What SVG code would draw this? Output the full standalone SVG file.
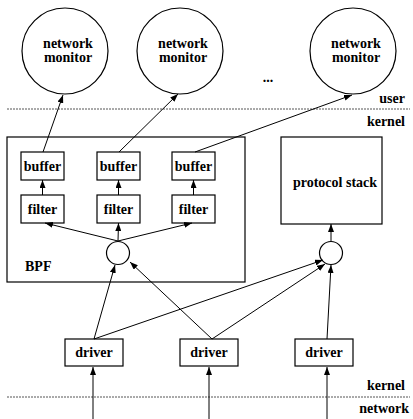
<svg xmlns="http://www.w3.org/2000/svg" width="413" height="419" viewBox="0 0 413 419">
  <style>
    .box { fill: #fff; stroke: #000; stroke-width: 1.2; }
    .ring { fill: #fff; stroke: #000; stroke-width: 1.2; }
    .lbl { font-family: 'Liberation Serif', 'DejaVu Serif', 'Times New Roman', serif; font-weight: 700; font-size: 14px; fill: #000; }
    .mid { text-anchor: middle; }
    .end { text-anchor: end; }
    .sep { stroke: #555; stroke-width: 1; stroke-dasharray: 2 1; fill: none; }
    .edge { stroke: #000; stroke-width: 1; fill: none; marker-end: url(#head); }
  </style>
  <defs>
    <marker id="head" viewBox="0 0 8 6" refX="8" refY="3" markerWidth="8" markerHeight="6" markerUnits="userSpaceOnUse" orient="auto">
      <path d="M0,0 L8,3 L0,6 z" fill="#000"/>
    </marker>
  </defs>

  <rect width="413" height="419" fill="#fff"/>

  <!-- layer boundaries -->
  <g id="layers">
    <line class="sep" x1="7" y1="109" x2="410" y2="109"/>
    <line class="sep" x1="7" y1="397" x2="410" y2="397"/>
    <text class="lbl end" x="405" y="103" font-family="Liberation Serif, serif">user</text>
    <text class="lbl end" x="405" y="126" font-family="Liberation Serif, serif">kernel</text>
    <text class="lbl end" x="405" y="390" font-family="Liberation Serif, serif">kernel</text>
    <text class="lbl end" x="409" y="413" font-family="Liberation Serif, serif">network</text>
  </g>

  <!-- user-level monitors -->
  <g id="monitor1">
    <circle class="ring" cx="65" cy="51" r="43"/>
    <text class="lbl mid" x="68" y="48" font-family="Liberation Serif, serif">network</text>
    <text class="lbl mid" x="68" y="62" font-family="Liberation Serif, serif">monitor</text>
  </g>
  <g id="monitor2">
    <circle class="ring" cx="180" cy="51" r="43"/>
    <text class="lbl mid" x="183" y="48" font-family="Liberation Serif, serif">network</text>
    <text class="lbl mid" x="183" y="62" font-family="Liberation Serif, serif">monitor</text>
  </g>
  <g id="monitor3">
    <circle class="ring" cx="353" cy="51" r="43"/>
    <text class="lbl mid" x="356" y="48" font-family="Liberation Serif, serif">network</text>
    <text class="lbl mid" x="356" y="62" font-family="Liberation Serif, serif">monitor</text>
  </g>
  <g id="ellipsis">
    <text class="lbl mid" x="268" y="82" font-family="Liberation Serif, serif">...</text>
  </g>

  <!-- packet filter -->
  <g id="bpf">
    <rect class="box" x="7" y="137" width="238" height="145"/>
    <text class="lbl" x="25" y="271" font-family="Liberation Serif, serif">BPF</text>
  </g>
  <g id="buffer1">
    <rect class="box" x="21" y="152" width="43" height="28"/>
    <text class="lbl mid" x="42.5" y="171" font-family="Liberation Serif, serif">buffer</text>
  </g>
  <g id="buffer2">
    <rect class="box" x="97" y="152" width="43" height="28"/>
    <text class="lbl mid" x="118.5" y="171" font-family="Liberation Serif, serif">buffer</text>
  </g>
  <g id="buffer3">
    <rect class="box" x="172" y="152" width="43" height="28"/>
    <text class="lbl mid" x="193.5" y="171" font-family="Liberation Serif, serif">buffer</text>
  </g>
  <g id="filter1">
    <rect class="box" x="21" y="195" width="43" height="28"/>
    <text class="lbl mid" x="42.5" y="214" font-family="Liberation Serif, serif">filter</text>
  </g>
  <g id="filter2">
    <rect class="box" x="97" y="195" width="43" height="28"/>
    <text class="lbl mid" x="118.5" y="214" font-family="Liberation Serif, serif">filter</text>
  </g>
  <g id="filter3">
    <rect class="box" x="172" y="195" width="43" height="28"/>
    <text class="lbl mid" x="193.5" y="214" font-family="Liberation Serif, serif">filter</text>
  </g>
  <g id="tap1">
    <circle class="ring" cx="118" cy="253" r="11.5"/>
  </g>

  <!-- protocol stack -->
  <g id="stack">
    <rect class="box" x="281" y="137" width="101" height="87"/>
    <text class="lbl mid" x="335" y="187" font-family="Liberation Serif, serif">protocol stack</text>
  </g>
  <g id="tap2">
    <circle class="ring" cx="331" cy="253" r="11.5"/>
  </g>

  <!-- drivers -->
  <g id="driver1">
    <rect class="box" x="65" y="339" width="58" height="27"/>
    <text class="lbl mid" x="94" y="357" font-family="Liberation Serif, serif">driver</text>
  </g>
  <g id="driver2">
    <rect class="box" x="180" y="339" width="58" height="27"/>
    <text class="lbl mid" x="209" y="357" font-family="Liberation Serif, serif">driver</text>
  </g>
  <g id="driver3">
    <rect class="box" x="295" y="339" width="58" height="27"/>
    <text class="lbl mid" x="324" y="357" font-family="Liberation Serif, serif">driver</text>
  </g>

  <!-- connectors -->
  <g id="connectors">
    <!-- network into drivers -->
    <line class="edge" x1="93" y1="419" x2="93" y2="367"/>
    <line class="edge" x1="209" y1="419" x2="209" y2="367"/>
    <line class="edge" x1="327" y1="419" x2="327" y2="367"/>
    <!-- drivers to taps -->
    <line class="edge" x1="94" y1="339" x2="115" y2="265"/>
    <line class="edge" x1="94" y1="339" x2="323" y2="260"/>
    <line class="edge" x1="212" y1="339" x2="130" y2="262"/>
    <line class="edge" x1="212" y1="339" x2="325" y2="264"/>
    <line class="edge" x1="327" y1="339" x2="331" y2="265"/>
    <!-- taps upward -->
    <line class="edge" x1="331" y1="241" x2="331" y2="224"/>
    <line class="edge" x1="118" y1="241" x2="45" y2="223"/>
    <line class="edge" x1="118" y1="241" x2="118.5" y2="223"/>
    <line class="edge" x1="118" y1="241" x2="192" y2="223"/>
    <!-- filters to buffers -->
    <line class="edge" x1="42.5" y1="195" x2="42.5" y2="180"/>
    <line class="edge" x1="118.5" y1="195" x2="118.5" y2="180"/>
    <line class="edge" x1="193.5" y1="195" x2="193.5" y2="180"/>
    <!-- buffers to monitors -->
    <line class="edge" x1="43" y1="152" x2="63" y2="95"/>
    <line class="edge" x1="119" y1="152" x2="178" y2="94"/>
    <line class="edge" x1="195" y1="152" x2="352" y2="95"/>
  </g>
</svg>
